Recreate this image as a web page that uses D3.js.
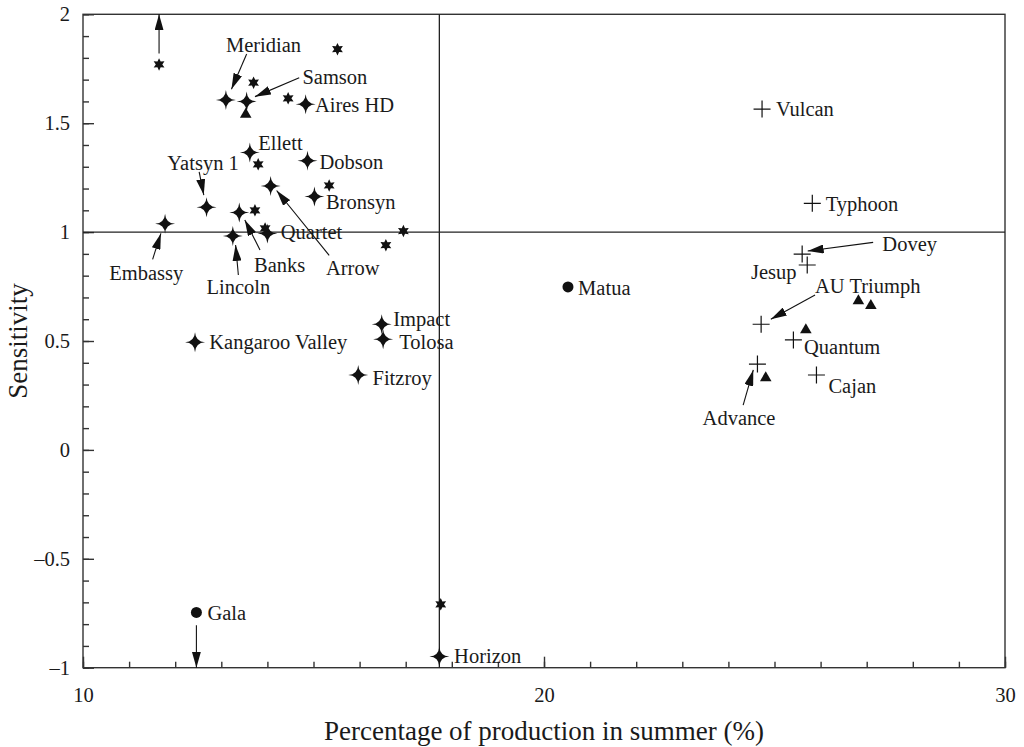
<!DOCTYPE html>
<html lang="en">
<head>
    <meta charset="UTF-8">
    <title>Sensitivity vs summer production</title>
    <script src="https://d3js.org/d3.v7.min.js"></script>
    <style>
        body { margin: 0; background: #fff; }
        text { font-family: "Liberation Serif", "Times New Roman", serif; fill: #1a1a1a; }
        .tick line, .domain { stroke: #333; }
    </style>
</head>
<body>
    <svg id="chart" width="1024" height="747"></svg>

    <script>
        // 4-point star cultivars
        const star4Names = ["Meridian", "Samson", "Aires HD", "Ellett", "Dobson", "Arrow", "Bronsyn", "Yatsyn 1",
            "Banks", "Embassy", "Quartet", "Lincoln", "Kangaroo Valley", "Impact", "Tolosa", "Fitzroy", "Horizon"];
        const star4X = [13.10, 13.55, 14.83, 13.62, 14.87, 14.07, 15.02, 12.68, 13.39, 11.78, 14.00, 13.25, 12.43, 16.48, 16.51, 15.97, 17.73];
        const star4Y = [1.607, 1.600, 1.587, 1.366, 1.328, 1.212, 1.163, 1.114, 1.090, 1.038, 0.994, 0.982, 0.494, 0.577, 0.508, 0.344, -0.949];

        // 6-point star cultivars (unlabelled)
        const star6X = [11.65, 15.52, 13.70, 14.45, 13.80, 15.34, 13.73, 13.95, 16.95, 16.57, 17.76];
        const star6Y = [1.77, 1.84, 1.686, 1.614, 1.311, 1.214, 1.10, 1.017, 1.005, 0.940, -0.709];

        // plus cultivars
        const plusNames = ["Vulcan", "Typhoon", "Dovey", "Jesup", "AU Triumph", "Quantum", "Advance", "Cajan"];
        const plusX = [24.73, 25.82, 25.60, 25.71, 24.71, 25.41, 24.63, 25.91];
        const plusY = [1.565, 1.132, 0.899, 0.849, 0.577, 0.505, 0.394, 0.344];

        // triangle cultivars (unlabelled)
        const triX = [13.53, 26.82, 27.09, 25.68, 24.81];
        const triY = [1.54, 0.684, 0.662, 0.551, 0.331];

        // circle cultivars
        const dotNames = ["Matua", "Gala"];
        const dotX = [20.52, 12.46];
        const dotY = [0.748, -0.746];

        // reference lines
        const refX = 17.73;
        const refY = 1;

        // off-scale arrows: x, from y, to y
        const offScale = [[11.65, 1.82, 2], [12.46, -0.805, -1]];

        // label text and where it sits (data units, left edge / middle)
        const labelText = ["Meridian", "Samson", "Aires HD", "Ellett", "Dobson", "Arrow", "Bronsyn", "Yatsyn 1", "Banks",
            "Embassy", "Quartet", "Lincoln", "Kangaroo Valley", "Impact", "Tolosa", "Fitzroy", "Horizon",
            "Vulcan", "Typhoon", "Dovey", "Jesup", "AU Triumph", "Quantum", "Advance", "Cajan", "Matua", "Gala"];
        const labelX = [13.10, 14.76, 15.03, 13.80, 15.13, 15.27, 15.27, 11.83, 13.71,
            10.57, 14.29, 12.68, 12.74, 16.73, 16.86, 16.28, 18.05,
            25.03, 26.11, 27.34, 24.49, 25.88, 25.64, 23.44, 26.17, 20.74, 12.70];
        const labelY = [1.859, 1.714, 1.584, 1.408, 1.323, 0.834, 1.140, 1.320, 0.849,
            0.815, 0.999, 0.747, 0.494, 0.604, 0.494, 0.333, -0.945,
            1.565, 1.132, 0.945, 0.818, 0.754, 0.474, 0.145, 0.293, 0.743, -0.750];

        // callout arrows: x1, y1, x2, y2 (data units)
        const callouts = [
            [13.55, 1.818, 13.22, 1.656],
            [14.69, 1.709, 13.73, 1.622],
            [15.34, 0.893, 14.20, 1.191],
            [12.52, 1.277, 12.62, 1.170],
            [13.84, 0.918, 13.51, 1.056],
            [11.51, 0.875, 11.69, 0.994],
            [13.37, 0.803, 13.31, 0.941],
            [27.14, 0.953, 25.72, 0.913],
            [25.88, 0.711, 24.92, 0.600],
            [24.32, 0.206, 24.54, 0.367]
        ];

        const yTickLabels = ["2", "1.5", "1", "0.5", "0", "\u20130.5", "\u20131"];
        const yTickValues = [2, 1.5, 1, 0.5, 0, -0.5, -1];
        const xTickValues = [10, 20, 30];

        const margin = { top: 14.3, right: 19, bottom: 79.3, left: 83 };
        const width = 1024, height = 747;

        const svg = d3.select("#chart");
        const x = d3.scaleLinear().domain([10, 30]).range([margin.left, width - margin.right]);
        const y = d3.scaleLinear().domain([-1, 2]).range([height - margin.bottom, margin.top]);

        svg.append("defs").append("marker")
            .attr("id", "head")
            .attr("viewBox", "0 0 16 9")
            .attr("refX", 16).attr("refY", 4.5)
            .attr("markerWidth", 16).attr("markerHeight", 9)
            .attr("markerUnits", "userSpaceOnUse")
            .attr("orient", "auto")
            .append("path").attr("d", "M0,0L16,4.5L0,9Z").attr("fill", "#111");

        // axes: minor and major ticks pointing inward
        const bottomY = y(-1);
        svg.append("g").attr("transform", `translate(0,${bottomY})`)
            .call(d3.axisBottom(x).tickValues(d3.range(10, 31, 1)).tickSize(-6).tickFormat(""))
            .call(g => g.select(".domain").remove());
        svg.append("g").attr("transform", `translate(0,${bottomY})`)
            .call(d3.axisBottom(x).tickValues(xTickValues).tickSize(-11).tickPadding(20).tickFormat(d3.format("d")))
            .call(g => g.select(".domain").remove())
            .call(g => g.selectAll("text").attr("font-size", 20.5).attr("font-family", "Liberation Serif").attr("fill", "#1a1a1a"));

        svg.append("g").attr("transform", `translate(${x(10)},0)`)
            .call(d3.axisLeft(y).tickValues(d3.range(-10, 21, 1).map(v => v / 10)).tickSize(-6).tickFormat(""))
            .call(g => g.select(".domain").remove());
        svg.append("g").attr("transform", `translate(${x(10)},0)`)
            .call(d3.axisLeft(y).tickValues(yTickValues).tickSize(-11).tickPadding(13)
                .tickFormat((d, i) => yTickLabels[i]))
            .call(g => g.select(".domain").remove())
            .call(g => g.selectAll("text").attr("font-size", 20.5).attr("font-family", "Liberation Serif").attr("fill", "#1a1a1a"));

        svg.selectAll(".tick line").attr("stroke", "#333").attr("stroke-width", 1.4);

        // frame
        svg.append("rect")
            .attr("x", x(10)).attr("y", y(2))
            .attr("width", x(30) - x(10)).attr("height", y(-1) - y(2))
            .attr("fill", "none").attr("stroke", "#333").attr("stroke-width", 1.4);

        // reference lines
        svg.append("line")
            .attr("x1", x(refX)).attr("x2", x(refX)).attr("y1", y(2)).attr("y2", y(-1))
            .attr("stroke", "#222").attr("stroke-width", 1.3);
        svg.append("line")
            .attr("x1", x(10)).attr("x2", x(30)).attr("y1", y(refY)).attr("y2", y(refY))
            .attr("stroke", "#222").attr("stroke-width", 1.3);

        // custom symbols
        function starType(points, inner) {
            return {
                draw(ctx, size) {
                    const R = Math.sqrt(size) / 2;
                    for (let i = 0; i < points * 2; i++) {
                        const a = i * Math.PI / points - Math.PI / 2;
                        const r = i % 2 ? R * inner : R;
                        if (i === 0) ctx.moveTo(r * Math.cos(a), r * Math.sin(a));
                        else ctx.lineTo(r * Math.cos(a), r * Math.sin(a));
                    }
                    ctx.closePath();
                }
            };
        }
        // four-point star with concave curved sides
        const sparkType = {
            draw(ctx, size) {
                const R = Math.sqrt(size) / 2, c = R * 0.06;
                const tips = [[0, -R], [R, 0], [0, R], [-R, 0]];
                const ctrl = [[c, -c], [c, c], [-c, c], [-c, -c]];
                ctx.moveTo(tips[0][0], tips[0][1]);
                for (let i = 0; i < 4; i++) {
                    const t = tips[(i + 1) % 4];
                    ctx.quadraticCurveTo(ctrl[i][0], ctrl[i][1], t[0], t[1]);
                }
                ctx.closePath();
            }
        };
        const crossType = {
            draw(ctx, size) {
                const h = Math.sqrt(size) / 2;
                ctx.moveTo(-h, 0); ctx.lineTo(h, 0);
                ctx.moveTo(0, -h); ctx.lineTo(0, h);
            }
        };

        const marks = svg.append("g");

        marks.selectAll(".s4").data(d3.zip(star4X, star4Y)).join("path")
            .attr("transform", d => `translate(${x(d[0])},${y(d[1])})`)
            .attr("d", d3.symbol().type(sparkType).size(20 * 20))
            .attr("fill", "#111");

        marks.selectAll(".s6").data(d3.zip(star6X, star6Y)).join("path")
            .attr("transform", d => `translate(${x(d[0])},${y(d[1])})`)
            .attr("d", d3.symbol().type(starType(6, 0.52)).size(12.5 * 12.5))
            .attr("fill", "#111");

        marks.selectAll(".pl").data(d3.zip(plusX, plusY)).join("path")
            .attr("transform", d => `translate(${x(d[0])},${y(d[1])})`)
            .attr("d", d3.symbol().type(crossType).size(17 * 17))
            .attr("fill", "none").attr("stroke", "#111").attr("stroke-width", 1.2);

        marks.selectAll(".tr").data(d3.zip(triX, triY)).join("path")
            .attr("transform", d => `translate(${x(d[0])},${y(d[1])})`)
            .attr("d", d3.symbol().type(d3.symbolTriangle).size(58))
            .attr("fill", "#111");

        marks.selectAll(".dt").data(d3.zip(dotX, dotY)).join("path")
            .attr("transform", d => `translate(${x(d[0])},${y(d[1])})`)
            .attr("d", d3.symbol().type(d3.symbolCircle).size(95))
            .attr("fill", "#111");

        // arrows
        svg.append("g").selectAll("line").data(offScale).join("line")
            .attr("x1", d => x(d[0])).attr("x2", d => x(d[0]))
            .attr("y1", d => y(d[1])).attr("y2", d => y(d[2]))
            .attr("stroke", "#111").attr("stroke-width", 1.1)
            .attr("marker-end", "url(#head)");

        svg.append("g").selectAll("line").data(callouts).join("line")
            .attr("x1", d => x(d[0])).attr("y1", d => y(d[1]))
            .attr("x2", d => x(d[2])).attr("y2", d => y(d[3]))
            .attr("stroke", "#111").attr("stroke-width", 1.1)
            .attr("marker-end", "url(#head)");

        // labels
        svg.append("g").selectAll("text").data(d3.zip(labelText, labelX, labelY)).join("text")
            .attr("x", d => x(d[1])).attr("y", d => y(d[2]))
            .attr("dy", "0.35em")
            .attr("font-size", 20.5)
            .text(d => d[0]);

        // axis titles
        svg.append("text")
            .attr("x", (x(10) + x(30)) / 2).attr("y", 740)
            .attr("text-anchor", "middle").attr("font-size", 27)
            .text("Percentage of production in summer (%)");
        svg.append("text")
            .attr("transform", "rotate(-90)")
            .attr("x", -(y(-1) + y(2)) / 2).attr("y", 27)
            .attr("text-anchor", "middle").attr("font-size", 27)
            .text("Sensitivity");
    </script>
</body>
</html>
